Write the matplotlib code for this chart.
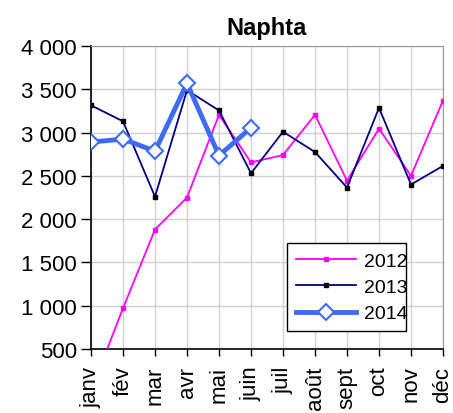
import matplotlib.pyplot as plt
from matplotlib.ticker import FuncFormatter

months = ['janv', 'fév', 'mar', 'avr', 'mai', 'juin', 'juil', 'août',
          'sept', 'oct', 'nov', 'déc']
y2012 = [20, 970, 1880, 2250, 3205, 2655, 2740, 3205, 2445, 3045, 2500, 3370]
y2013 = [3315, 3130, 2260, 3490, 3255, 2530, 3010, 2775, 2365, 3285, 2400, 2615]
y2014 = [2890, 2925, 2785, 3570, 2735, 3055]

plt.rcParams['font.family'] = ['Liberation Sans', 'DejaVu Sans']

fig = plt.figure(figsize=(4.53, 4.14), dpi=100)
ax = fig.add_axes([91 / 453, 64 / 414, 352 / 453, 303 / 414])

x = list(range(len(months)))
ax.plot(x, y2012, color='#FF00FF', lw=1.3, marker='s', ms=3, label='2012', zorder=3)
ax.plot(x, y2013, color='#000080', lw=1.3, marker='s', ms=3, mfc='black', mec='black',
        label='2013', zorder=4)
ax.plot(x[:len(y2014)], y2014, color='#3D6BF5', lw=3.5, marker='D', ms=8,
        mfc='white', mec='#3D6BF5', mew=1.5, label='2014', zorder=5)

ax.set_xlim(0, 11)
ax.set_ylim(500, 4000)
ax.set_yticks(range(500, 4001, 500))
ax.yaxis.set_major_formatter(FuncFormatter(lambda v, p: f'{int(v):,}'.replace(',', ' ')))
ax.set_xticks(x)
ax.set_xticklabels(months, rotation=90, fontsize=16)
ax.tick_params(axis='y', labelsize=16, direction='out', length=7, width=1, pad=3)
ax.tick_params(axis='x', direction='out', length=5, width=1, pad=7)

ax.grid(True, color='#d0d0d0', lw=1)
ax.set_axisbelow(True)
for s in ['top', 'right']:
    ax.spines[s].set_color('#999999')
for s in ['left', 'bottom']:
    ax.spines[s].set_color('black')
    ax.spines[s].set_linewidth(1.2)

ax.set_title('Naphta', fontsize=17, fontweight='bold', pad=9)

leg = ax.legend(loc='lower left', bbox_to_anchor=(0.557, 0.059, 0.338, 0.274),
                mode='expand', fontsize=14, frameon=True, fancybox=False,
                edgecolor='black', framealpha=1, borderpad=0.45, handlelength=3.1,
                labelspacing=0.45, borderaxespad=0, handletextpad=0.4)
leg.get_frame().set_linewidth(1)

fig.savefig('out.png', dpi=100)
